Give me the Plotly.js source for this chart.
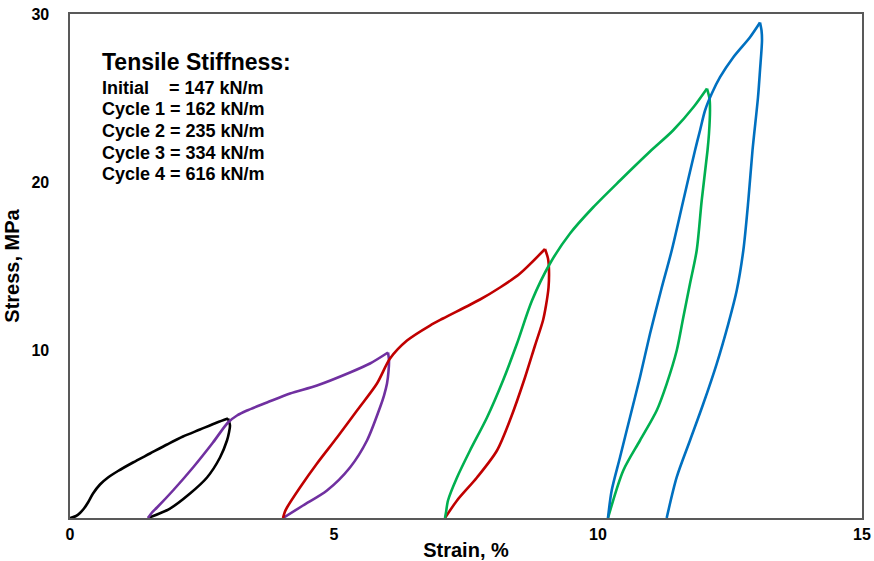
<!DOCTYPE html>
<html>
<head>
<meta charset="utf-8">
<script src="https://cdn.plot.ly/plotly-3.0.1.min.js"></script>
<style>html,body{margin:0;padding:0;background:#fff;}#chart{width:874px;height:561px;}</style>
</head>
<body>
<div id="chart"></div>
<script>
// Series names and colours
const seriesNames = ["Initial", "Cycle 1", "Cycle 2", "Cycle 3", "Cycle 4"];
const seriesColors = ["#000000", "#7030A0", "#C00000", "#00B050", "#0070C0"];

// Initial loading + unloading (strain %, stress MPa)
const initialStrain = [0, 0.114, 0.189, 0.265, 0.341, 0.436, 0.568, 0.720, 0.909, 1.193, 1.515, 1.837, 2.140, 2.462, 2.784, 2.992,
  3.030, 3.011, 2.973, 2.841, 2.595, 2.273, 1.894, 1.477];
const initialStress = [0, 0.119, 0.298, 0.565, 0.923, 1.458, 1.994, 2.411, 2.798, 3.304, 3.839, 4.375, 4.851, 5.268, 5.685, 5.923,
  5.506, 5.089, 4.613, 3.601, 2.411, 1.458, 0.565, 0];

// Cycle 1
const cycle1Strain = [1.477, 1.553, 1.648, 1.951, 2.330, 2.708, 2.992, 3.163, 3.352, 3.731, 4.167, 4.678, 5.303, 5.682, 6.023,
  6.042, 6.032, 6.004, 5.947, 5.871, 5.625, 5.303, 4.867, 4.413, 4.034];
const cycle1Stress = [0, 0.327, 0.625, 1.637, 3.006, 4.494, 5.685, 6.101, 6.399, 6.875, 7.411, 7.887, 8.661, 9.196, 9.851,
  9.375, 8.720, 8.000, 7.290, 6.577, 4.613, 3.006, 1.637, 0.744, 0];

// Cycle 2
const cycle2Strain = [4.034, 4.072, 4.110, 4.356, 4.678, 5.057, 5.436, 5.814, 6.061, 6.383, 6.818, 7.064, 7.765, 8.144, 8.523, 8.996,
  9.053, 9.072, 9.063, 9.015, 8.958, 8.807, 8.617, 8.352, 8.087, 7.708, 7.330, 7.102];
const cycle2Stress = [0, 0.387, 0.625, 1.815, 3.244, 4.792, 6.399, 8.006, 9.494, 10.565, 11.458, 11.875, 13.006, 13.720, 14.554, 16.012,
  15.446, 14.732, 13.720, 12.649, 11.756, 10.268, 8.363, 5.982, 4.018, 2.411, 1.042, 0];

// Cycle 3
const cycle3Strain = [7.102, 7.121, 7.159, 7.330, 7.576, 7.898, 8.201, 8.466, 8.750, 9.091, 9.470, 9.905, 10.417, 10.985, 11.420, 11.818, 12.064,
  12.112, 12.121, 12.102, 12.074, 11.964, 11.869, 11.742, 11.616, 11.491, 11.301, 11.112, 10.795, 10.479, 10.189];
const cycle3Stress = [0, 0.327, 1.042, 2.411, 4.018, 5.982, 8.185, 10.387, 12.946, 15.149, 16.935, 18.482, 20.089, 21.815, 23.065, 24.494, 25.565,
  24.970, 24.256, 22.887, 21.875, 18.899, 15.923, 13.940, 11.952, 9.970, 7.988, 6.399, 4.613, 2.827, 0];

// Cycle 4
const cycle4Strain = [10.189, 10.259, 10.417, 10.606, 10.795, 10.985, 11.193, 11.396, 11.616, 11.837, 11.932, 12.027, 12.153, 12.311, 12.563, 12.879, 13.068,
  13.097, 13.106, 13.068, 13.030, 12.926, 12.847, 12.752, 12.627, 12.468, 12.248, 11.994, 11.742, 11.491, 11.301];
const cycle4Stress = [0, 1.637, 3.619, 5.999, 8.381, 10.963, 13.542, 15.923, 18.899, 21.875, 23.065, 24.256, 25.250, 26.238, 27.429, 28.619, 29.494,
  29.018, 28.423, 26.637, 25.030, 21.875, 18.899, 15.923, 13.542, 11.560, 9.179, 6.798, 4.613, 2.429, 0];

// Tick values
const xTickVals = [0, 5, 10, 15];
const yTickVals = [10, 20, 30];

// Annotation text
const noteTitle = "Tensile Stiffness:";
const noteLines = [
  "Initial\u00A0\u00A0\u00A0\u00A0= 147 kN/m",
  "Cycle 1 = 162 kN/m",
  "Cycle 2 = 235 kN/m",
  "Cycle 3 = 334 kN/m",
  "Cycle 4 = 616 kN/m"
];

const strains = [initialStrain, cycle1Strain, cycle2Strain, cycle3Strain, cycle4Strain];
const stresses = [initialStress, cycle1Stress, cycle2Stress, cycle3Stress, cycle4Stress];

// Each cycle drawn as a loading branch and an unloading branch (split at peak stress)
const traces = [];
seriesNames.forEach((n, i) => {
  const xs = strains[i], ys = stresses[i];
  const pk = ys.indexOf(Math.max(...ys));
  [[0, pk + 1], [pk, xs.length]].forEach(([a, b]) => {
    traces.push({
      type: "scatter", mode: "lines", name: n,
      x: xs.slice(a, b), y: ys.slice(a, b),
      line: {color: seriesColors[i], width: 2.6, shape: "spline", smoothing: 0.8},
      hoverinfo: "skip"
    });
  });
});

const fontFam = "Liberation Sans, Arial, sans-serif";
const lineYs = [0.853, 0.8115, 0.768, 0.724, 0.6825];

const annotations = [{
  xref: "paper", yref: "paper", x: 0.038, y: 0.905,
  xanchor: "left", yanchor: "middle", showarrow: false,
  text: noteTitle,
  font: {family: fontFam, size: 23, color: "#000", weight: "bold"}
}].concat(noteLines.map((t, i) => ({
  xref: "paper", yref: "paper", x: 0.038, y: lineYs[i],
  xanchor: "left", yanchor: "middle", showarrow: false,
  text: t,
  font: {family: fontFam, size: 18, color: "#000", weight: "bold"}
})));

const layout = {
  width: 874, height: 561,
  margin: {l: 70, r: 12, t: 14, b: 43},
  paper_bgcolor: "#fff", plot_bgcolor: "#fff",
  showlegend: false,
  font: {family: fontFam, color: "#000"},
  xaxis: {
    range: [0, 15], tickvals: xTickVals, ticks: "",
    showgrid: false, zeroline: false,
    showline: true, mirror: true, linecolor: "#595959", linewidth: 1.6,
    tickfont: {family: fontFam, size: 16, color: "#000", weight: "bold"},
    ticklabelstandoff: 1,
    title: {text: "Strain, %", font: {family: fontFam, size: 20, color: "#000", weight: "bold"}, standoff: 2}
  },
  yaxis: {
    range: [0, 30], tickvals: yTickVals, ticks: "",
    showgrid: false, zeroline: false,
    showline: true, mirror: true, linecolor: "#595959", linewidth: 1.6,
    tickfont: {family: fontFam, size: 16, color: "#000", weight: "bold"},
    ticklabelstandoff: 16,
    title: {text: "Stress, MPa", font: {family: fontFam, size: 20, color: "#000", weight: "bold"}, standoff: 6}
  },
  annotations: annotations
};

Plotly.newPlot("chart", traces, layout, {displayModeBar: false, staticPlot: true});
</script>
</body>
</html>
